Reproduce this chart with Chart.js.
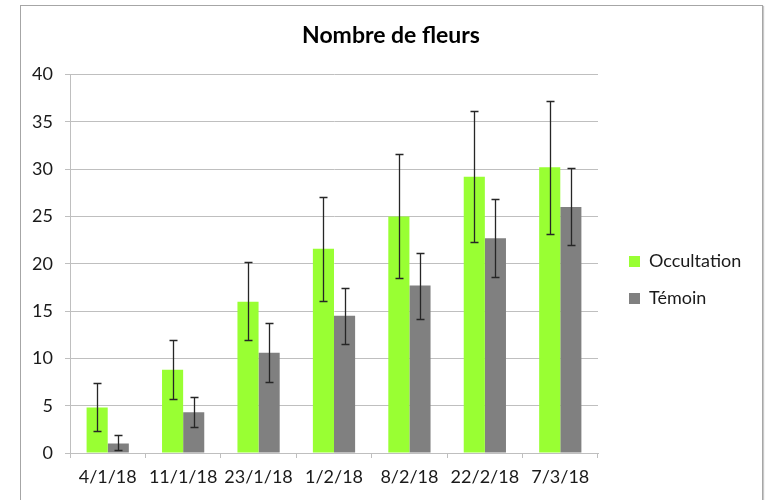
<!DOCTYPE html>
<html>
<head>
<meta charset="utf-8">
<script src="https://cdn.jsdelivr.net/npm/chart.js@4/dist/chart.umd.min.js"></script>
<style>
  html, body { margin: 0; padding: 0; background: #fff; }
  #wrap { position: relative; width: 765px; height: 500px; }
  #frame { position: absolute; left: 20px; top: 5px; width: 741px; height: 520px;
           border: 1px solid #a6a6a6; box-shadow: 1px 1px 1px #c8c8c8; }
  canvas { position: absolute; left: 0; top: 0; }
</style>
</head>
<body>
<div id="wrap">
  <div id="frame"></div>
  <canvas id="chart" width="765" height="500"></canvas>
</div>
<script>
// Dates of the counts
const dates = ["4/1/18", "11/1/18", "23/1/18", "1/2/18", "8/2/18", "22/2/18", "7/3/18"];

// Mean number of flowers, with the low / high ends of the error bars
const occultation = [4.8, 8.8, 16.0, 21.6, 25.0, 29.2, 30.2];
const occultationLow = [2.3, 5.7, 11.9, 16.1, 18.5, 22.3, 23.2];
const occultationHigh = [7.4, 11.9, 20.2, 27.1, 31.6, 36.2, 37.2];

const temoin = [1.0, 4.3, 10.6, 14.5, 17.7, 22.7, 26.0];
const temoinLow = [0.3, 2.7, 7.5, 11.5, 14.2, 18.6, 22.0];
const temoinHigh = [1.9, 5.9, 13.7, 17.4, 21.1, 26.9, 30.1];

const yTicks = [0, 5, 10, 15, 20, 25, 30, 35, 40];

const errorLows = [occultationLow, temoinLow];
const errorHighs = [occultationHigh, temoinHigh];

const font = "Lato, 'Open Sans', sans-serif";
const gridColor = "#bfbfbf";

// draws the error bars on top of every bar, using the y scale
const errorBars = {
  id: "errorBars",
  afterDatasetsDraw(chart) {
    const c = chart.ctx;
    const y = chart.scales.y;
    c.save();
    c.strokeStyle = "#262626";
    c.lineWidth = 1.3;
    chart.data.datasets.forEach((ds, i) => {
      const meta = chart.getDatasetMeta(i);
      meta.data.forEach((bar, j) => {
        const x = Math.round(bar.x) + 0.5;
        const top = Math.round(y.getPixelForValue(errorHighs[i][j])) + 0.5;
        const bot = Math.round(y.getPixelForValue(errorLows[i][j])) + 0.5;
        c.beginPath();
        c.moveTo(x, top); c.lineTo(x, bot);
        c.moveTo(x - 4, top); c.lineTo(x + 4, top);
        c.moveTo(x - 4, bot); c.lineTo(x + 4, bot);
        c.stroke();
      });
    });
    c.restore();
  }
};

// fixed legend width so the plot ends where it does in the picture
const legendWidth = {
  id: "legendWidth",
  beforeInit(chart) {
    const fit = chart.legend.fit;
    chart.legend.fit = function () {
      fit.bind(chart.legend)();
      this.width = 167;
    };
  },
  afterLayout(chart) {
    chart.legend.left += 12;
    chart.legend.right += 12;
    chart.legend.top += 30;
    chart.legend.bottom += 30;
  }
};

new Chart(document.getElementById("chart"), {
  type: "bar",
  data: {
    labels: dates,
    datasets: [
      {
        label: "Occultation",
        data: occultation,
        backgroundColor: "#99ff33",
        borderWidth: 0,
      },
      {
        label: "Témoin",
        data: temoin,
        backgroundColor: "#808080",
        borderWidth: 0,
      },
    ],
  },
  options: {
    responsive: false,
    animation: false,
    devicePixelRatio: 1,
    layout: { padding: { left: 17, right: 0, top: 0, bottom: 0 } },
    datasets: { bar: { categoryPercentage: 0.56, barPercentage: 1 } },
    scales: {
      x: {
        afterFit(scale) { scale.height = 47; },
        grid: { display: true, drawOnChartArea: false, drawTicks: true, tickLength: 5, color: gridColor, offset: true },
        border: { color: gridColor, width: 1 },
        ticks: { color: "#1a1a1a", font: { family: font, size: 18 }, padding: 8 },
      },
      y: {
        min: 0,
        max: 40,
        afterFit(scale) { scale.width = 53; },
        afterBuildTicks(scale) { scale.ticks = yTicks.map(v => ({ value: v })); },
        grid: { color: gridColor, lineWidth: 1, tickLength: 5 },
        border: { color: gridColor, width: 1 },
        ticks: { color: "#1a1a1a", font: { family: font, size: 18 }, padding: 12 },
      },
    },
    plugins: {
      title: {
        display: true,
        text: "Nombre de fleurs",
        color: "#000",
        font: { family: font, size: 23, weight: "bold" },
        padding: { top: 22, bottom: 25 },
      },
      legend: {
        position: "right",
        labels: {
          color: "#1a1a1a",
          font: { family: font, size: 18 },
          boxWidth: 11,
          boxHeight: 11,
          padding: 19,
        },
      },
      tooltip: { enabled: false },
    },
  },
  plugins: [errorBars, legendWidth],
});
</script>
</body>
</html>
